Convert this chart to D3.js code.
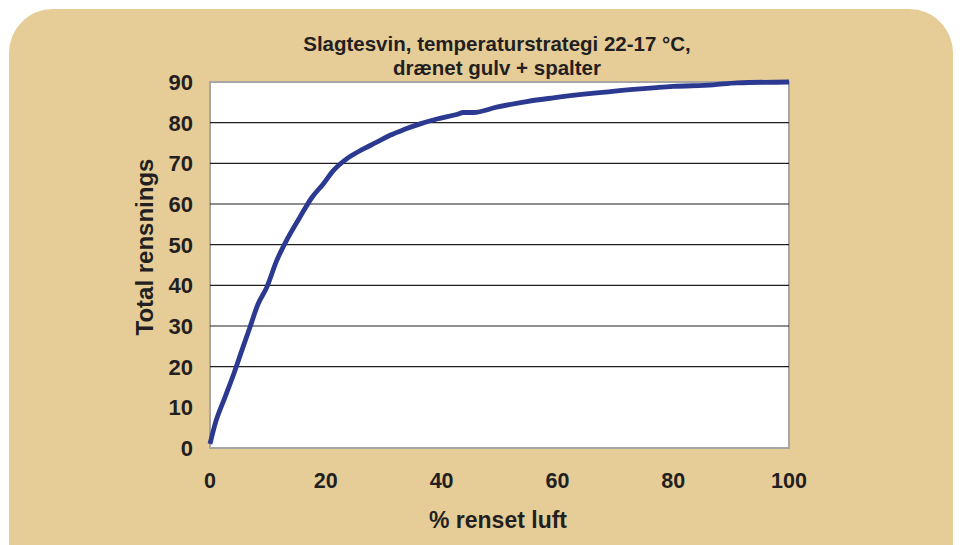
<!DOCTYPE html>
<html>
<head>
<meta charset="utf-8">
<script src="https://cdn.jsdelivr.net/npm/d3@7"></script>
<style>
  body { margin: 0; background: #ffffff; }
  svg text { font-family: "Liberation Sans", Arial, sans-serif; font-weight: bold; fill: #231f20; }
</style>
</head>
<body>
<svg id="chart" width="962" height="545"></svg>
<script>
// % renset luft
var xValues = [0, 0.9, 2.6, 4.3, 5.5, 6.9, 8.3, 9.8, 11.5, 13.5, 15.5, 17.6, 19.6, 21.3, 23.6, 25.9, 28.8, 31.1, 33.5, 36.3, 39.2, 42.6, 43.8, 45.5, 49.5, 54.7, 59.3, 66.8, 74.3, 80, 86.9, 91, 100];
// Total rensnings
var yValues = [1, 6, 12.5, 19, 24, 29.7, 35.4, 39.5, 46, 51.8, 56.7, 61.6, 65, 68.2, 71.1, 73.1, 75.2, 76.9, 78.3, 79.7, 80.9, 82, 82.5, 82.5, 83.8, 85.2, 86.1, 87.3, 88.3, 88.9, 89.3, 89.8, 90];
var xTicks = [0, 20, 40, 60, 80, 100];
var yTicks = [0, 10, 20, 30, 40, 50, 60, 70, 80, 90];
var gridTicks = [20, 30, 40, 50, 60, 70, 80];
var titleLines = ["Slagtesvin, temperaturstrategi 22-17 °C,", "drænet gulv + spalter"];

var svg = d3.select("#chart");

svg.append("rect")
    .attr("x", 9).attr("y", 9)
    .attr("width", 944).attr("height", 580)
    .attr("rx", 44).attr("ry", 44)
    .attr("fill", "#e6cd97");

var margin = {left: 210, top: 82, right: 789, bottom: 448};
var x = d3.scaleLinear().domain([0, 100]).range([margin.left, margin.right]);
var y = d3.scaleLinear().domain([0, 90]).range([margin.bottom, margin.top]);

svg.append("rect")
    .attr("x", x(0)).attr("y", y(90))
    .attr("width", x(100) - x(0)).attr("height", y(0) - y(90))
    .attr("fill", "#ffffff")
    .attr("stroke", "#a7a6a3")
    .attr("stroke-width", 2);

svg.append("g")
    .selectAll("line")
    .data(gridTicks)
    .join("line")
    .attr("x1", x(0)).attr("x2", x(100))
    .attr("y1", function(d) { return y(d); })
    .attr("y2", function(d) { return y(d); })
    .attr("stroke", "#231f20")
    .attr("stroke-width", 1.2);

// y tick labels
svg.append("g")
    .selectAll("text")
    .data(yTicks)
    .join("text")
    .attr("x", 193)
    .attr("y", function(d) { return y(d); })
    .attr("dy", "0.36em")
    .attr("text-anchor", "end")
    .attr("font-size", 22)
    .text(function(d) { return d; });

// x tick labels
svg.append("g")
    .selectAll("text")
    .data(xTicks)
    .join("text")
    .attr("x", function(d) { return x(d); })
    .attr("y", 488)
    .attr("text-anchor", "middle")
    .attr("font-size", 21.5)
    .text(function(d) { return d; });

svg.append("text")
    .attr("x", 498).attr("y", 528)
    .attr("text-anchor", "middle")
    .attr("font-size", 23)
    .text("% renset luft");

svg.append("text")
    .attr("transform", "translate(153,247) rotate(-90)")
    .attr("text-anchor", "middle")
    .attr("font-size", 24)
    .text("Total rensnings");

svg.append("g")
    .selectAll("text")
    .data(titleLines)
    .join("text")
    .attr("x", 497)
    .attr("y", function(d, i) { return 51 + i * 24; })
    .attr("text-anchor", "middle")
    .attr("font-size", 20.5)
    .text(function(d) { return d; });

var line = d3.line()
    .x(function(d, i) { return x(xValues[i]); })
    .y(function(d) { return y(d); })
    .curve(d3.curveMonotoneX);

svg.append("path")
    .datum(yValues)
    .attr("d", line)
    .attr("fill", "none")
    .attr("stroke", "#2b3990")
    .attr("stroke-width", 4.8)
    .attr("stroke-linejoin", "round");
</script>
</body>
</html>
